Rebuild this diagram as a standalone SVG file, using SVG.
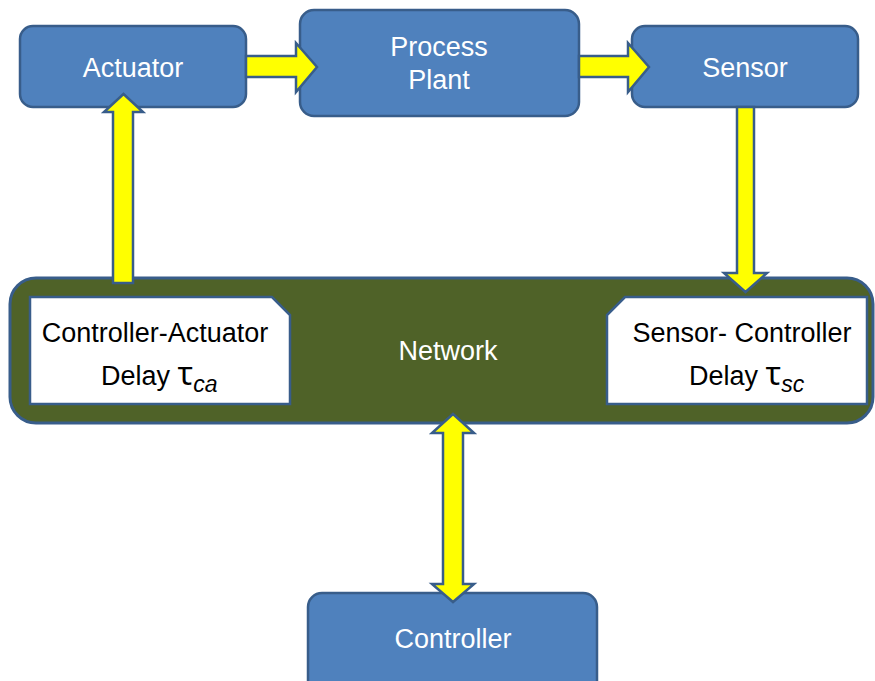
<svg xmlns="http://www.w3.org/2000/svg" width="875" height="681" viewBox="0 0 875 681">
  <style>
    .blk { fill: #4F81BD; stroke: #385D8A; stroke-width: 2.5; }
    .net { fill: #4F6228; stroke: #385D8A; stroke-width: 3; }
    .note { fill: #FFFFFF; stroke: #385D8A; stroke-width: 2.5; }
    .arrow { fill: #FFFF00; stroke: #385D8A; stroke-width: 2.5; stroke-linejoin: miter; }
    .lbl { font-family: "Liberation Sans", Arial, sans-serif; font-size: 27px; fill: #FFFFFF; text-anchor: middle; }
    .dly { font-family: "Liberation Sans", Arial, sans-serif; font-size: 27px; fill: #000000; }
    .tau { font-family: "Noto Sans", "DejaVu Sans", sans-serif; font-size: 32px; }
    .sub { font-style: italic; font-size: 23px; }
  </style>

  <g id="actuator">
    <rect class="blk" x="20" y="26" width="226" height="81" rx="13"/>
    <text class="lbl" x="133" y="77">Actuator</text>
  </g>

  <g id="process-plant">
    <rect class="blk" x="300" y="10" width="279" height="106" rx="14"/>
    <text class="lbl" x="439" y="56">Process</text>
    <text class="lbl" x="439" y="89">Plant</text>
  </g>

  <g id="sensor">
    <rect class="blk" x="632" y="26" width="226" height="81" rx="13"/>
    <text class="lbl" x="745" y="77">Sensor</text>
  </g>

  <g id="network">
    <rect class="net" x="10" y="278" width="863" height="145" rx="26"/>
    <text class="lbl" x="448" y="360">Network</text>
  </g>

  <g id="ca-delay">
    <path class="note" d="M30,297 H272 L290,315 V404 H30 Z"/>
    <text class="dly" x="155" y="342" text-anchor="middle">Controller-Actuator</text>
    <text class="dly" x="101" y="385">Delay <tspan class="tau">τ</tspan><tspan class="sub" dy="7">ca</tspan></text>
  </g>

  <g id="sc-delay">
    <path class="note" d="M625,297 H867 V404 H607 V315 Z"/>
    <text class="dly" x="742" y="342" text-anchor="middle">Sensor- Controller</text>
    <text class="dly" x="689" y="385">Delay <tspan class="tau">τ</tspan><tspan class="sub" dy="7">sc</tspan></text>
  </g>

  <g id="controller">
    <rect class="blk" x="308" y="593" width="289" height="110" rx="14"/>
    <text class="lbl" x="453" y="648">Controller</text>
  </g>

  <g id="connectors">
    <polygon class="arrow" points="246,56 296,56 296,43 317,67 296,92 296,77 246,77"/>
    <polygon class="arrow" points="579,56 628,56 628,43 649,67 628,92 628,77 579,77"/>
    <polygon class="arrow" points="737,107 754,107 754,273 767,273 745.5,292 724,273 737,273"/>
    <polygon class="arrow" points="113,283 113,112 104,112 123.5,94 143,112 133,112 133,283"/>
    <polygon class="arrow" points="453,414 474,433 463,433 463,584 474,584 453,602 432,584 443,584 443,433 432,433"/>
  </g>
</svg>
